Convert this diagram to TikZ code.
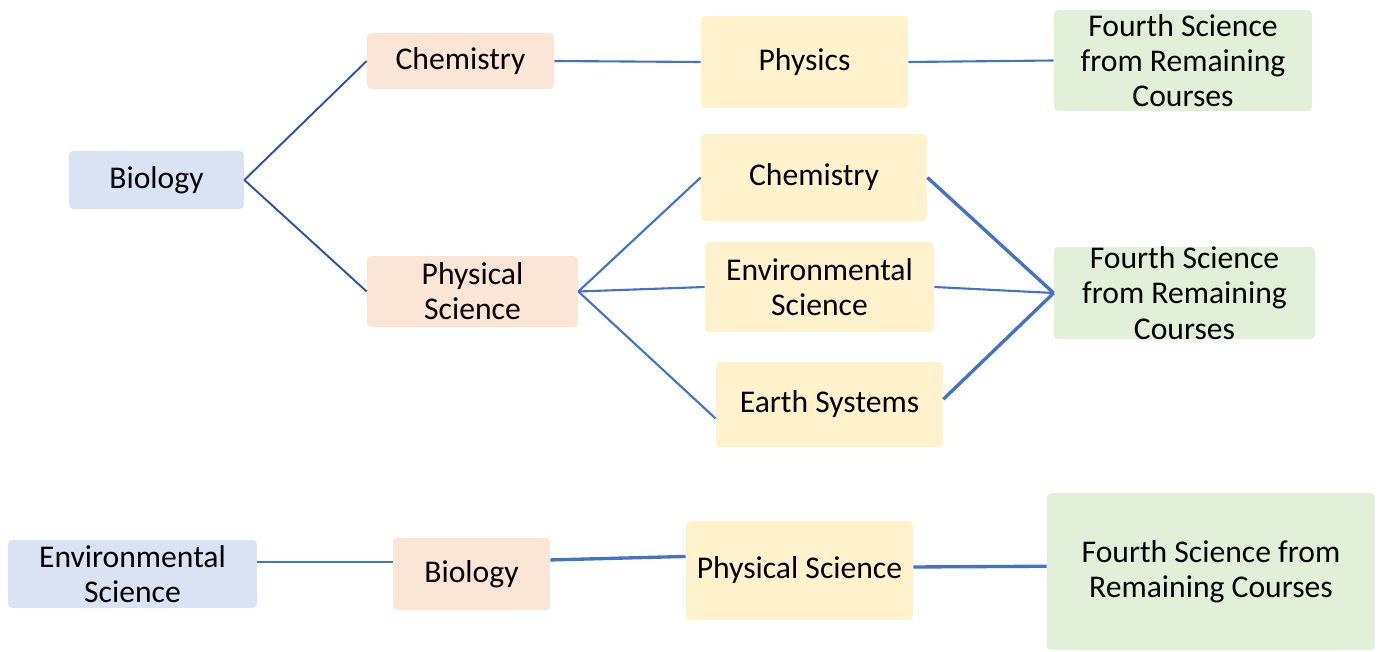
\documentclass[tikz,border=0pt]{standalone}
\usepackage{fontspec}
\setmainfont{Carlito}
\definecolor{cblue}{RGB}{218,227,243}
\definecolor{corange}{RGB}{251,229,214}
\definecolor{cyellow}{RGB}{255,242,204}
\definecolor{cgreen}{RGB}{226,240,217}
\definecolor{link}{RGB}{68,114,196}
\definecolor{linkdk}{RGB}{47,85,151}

\begin{document}
\begin{tikzpicture}[x={(0.02cm,0)}, y={(0,-0.02cm)},
    box/.style={rounded corners=2.5pt, inner sep=0pt, align=center,
                font=\fontsize{18}{20}\selectfont},
    wh/.style 2 args={minimum width=#1*0.02cm, minimum height=#2*0.02cm},
    b1/.style={box, fill=cblue},
    b2/.style={box, fill=corange},
    b3/.style={box, fill=cyellow},
    b4/.style={box, fill=cgreen},
    ln/.style={draw=link, line width=1.2pt},
    lnd/.style={draw=linkdk, line width=1.1pt},
    lnt/.style={draw=link, line width=1.9pt}]
  \useasboundingbox (0,0) rectangle (1379,652);

  % ---------- top row: Biology first ---------------------------------------
  \node[b1, wh={175}{58}] (bio) at (156.5,180) {Biology};
  \node[b2, wh={187}{56}] (chemA) at (460.5,61) {Chemistry};
  \node[b2, wh={211}{71}] (physsci) at (472.5,291.5) {Physical\\Science};
  \node[b3, wh={207}{92}] (physics) at (804.5,62) {Physics};
  \node[b4, wh={258}{101}] (fourthA) at (1183,60.5) {Fourth Science\\from Remaining\\Courses};
  \draw[lnd] (bio.east) -- (chemA.west);
  \draw[lnd] (bio.east) -- (physsci.west);
  \draw[ln] (chemA.east) -- (physics.west);
  \draw[ln] (physics.east) -- (fourthA.west);

  % ---------- middle: three choices after Physical Science -----------------
  \node[b3, wh={226}{87}] (chemB) at (814,177.5) {Chemistry};
  \node[b3, wh={229}{90}] (envB) at (819.5,287) {Environmental\\Science};
  \node[b3, wh={227}{85}] (earth) at (829.5,404.5) {Earth Systems};
  \node[b4, wh={261}{92}] (fourthB) at (1184.5,293) {Fourth Science\\from Remaining\\Courses};
  \draw[ln] (physsci.east) -- (chemB.west);
  \draw[ln] (physsci.east) -- (envB.west);
  \draw[ln] (physsci.east) -- ([yshift=-8pt]earth.west);
  \draw[lnt] (chemB.east) -- (fourthB.west);
  \draw[ln] (envB.east) -- (fourthB.west);
  \draw[lnt] ([yshift=3pt]earth.east) -- (fourthB.west);

  % ---------- bottom row: Environmental Science first ----------------------
  \node[b1, wh={249}{68}] (envC) at (132.5,574) {Environmental\\Science};
  \node[b2, wh={157}{72}] (bioC) at (471.5,574) {Biology};
  \node[b3, wh={227}{99}] (physsciC) at (799.5,570.5) {Physical Science};
  \node[b4, wh={328}{157}] (fourthC) at (1211,571.5) {Fourth Science from\\Remaining Courses};
  \draw[ln] ([yshift=7pt]envC.east) -- ([yshift=7pt]bioC.west);
  \draw[lnt] ([yshift=8pt]bioC.east) -- ([yshift=8pt]physsciC.west);
  \draw[lnt] ([yshift=2pt]physsciC.east) -- ([yshift=3pt]fourthC.west);
\end{tikzpicture}
\end{document}
